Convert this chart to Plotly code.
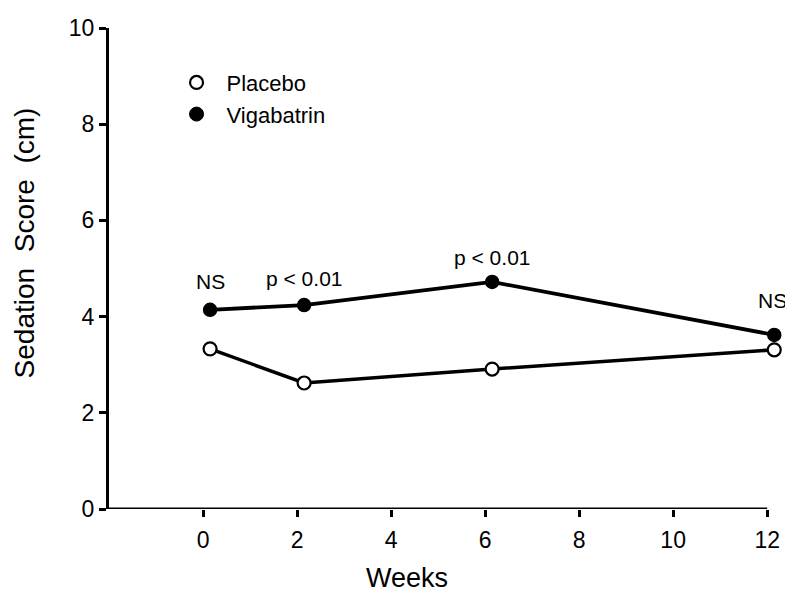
import plotly.graph_objects as go

weeks = [0.15, 2.15, 6.15, 12.15]
placebo = [3.33, 2.62, 2.91, 3.31]
vigabatrin = [4.14, 4.24, 4.72, 3.62]
sig_labels = ["NS", "p < 0.01", "p < 0.01", "NS"]
x_ticks = [0, 2, 4, 6, 8, 10, 12]
y_ticks = [0, 2, 4, 6, 8, 10]

FONT = "Liberation Sans, Arial, Helvetica, sans-serif"

fig = go.Figure()

fig.add_trace(go.Scatter(
    x=weeks, y=vigabatrin, mode="lines+markers", name="Vigabatrin",
    line=dict(color="black", width=3.8),
    marker=dict(size=13, color="black", line=dict(color="black", width=1.5)),
    showlegend=False, cliponaxis=False,
))
fig.add_trace(go.Scatter(
    x=weeks, y=placebo, mode="lines+markers", name="Placebo",
    line=dict(color="black", width=3.5),
    marker=dict(size=13, color="white", line=dict(color="black", width=2.2)),
    showlegend=False, cliponaxis=False,
))
# legend-only entries (markers only, as in the reference)
fig.add_trace(go.Scatter(
    x=[None], y=[None], mode="markers", name="Placebo",
    marker=dict(size=13, color="white", line=dict(color="black", width=2.2)),
))
fig.add_trace(go.Scatter(
    x=[None], y=[None], mode="markers", name="Vigabatrin",
    marker=dict(size=14, color="black", line=dict(color="black", width=1)),
))

yshifts = [28, 27, 24, 34]
xshifts = [0, 0, 0, -2]
for xv, yv, txt, ys, xs in zip(weeks, vigabatrin, sig_labels, yshifts, xshifts):
    fig.add_annotation(
        x=xv, y=yv, text=txt, showarrow=False, xanchor="center", yanchor="middle",
        yshift=ys, xshift=xs, font=dict(family=FONT, size=21, color="black"),
    )

# axis titles (placed as in the reference, slightly off-centre)
fig.add_annotation(
    text="Sedation&nbsp; Score&nbsp; (cm)", textangle=-90, showarrow=False,
    xref="paper", yref="paper", x=-0.125, y=0.553, xanchor="center", yanchor="middle",
    font=dict(family=FONT, size=28, color="black"),
)
fig.add_annotation(
    text="Weeks", showarrow=False,
    xref="paper", yref="paper", x=0.44, y=-0.143, xanchor="center", yanchor="middle",
    font=dict(family=FONT, size=27, color="black"),
)

# x axis baseline from -2 to 12 (the axis range is padded so the week-12 markers show)
fig.add_shape(type="line", xref="x", yref="y", x0=-2, x1=12, y0=0, y1=0,
              line=dict(color="black", width=3))

fig.update_layout(
    width=785, height=586,
    margin=dict(l=101, r=7, t=20, b=85),
    paper_bgcolor="white", plot_bgcolor="white",
    font=dict(family=FONT, color="black"),
    showlegend=True,
    legend=dict(
        x=0.085, y=0.93, xanchor="left", yanchor="top",
        font=dict(family=FONT, size=22, color="black"),
        bgcolor="rgba(0,0,0,0)", itemwidth=50,
    ),
)

fig.update_xaxes(
    range=[-2, 12.4], tickvals=x_ticks, ticktext=[str(t) for t in x_ticks],
    showline=False,
    ticks="outside", ticklen=7, tickwidth=2.5, tickcolor="black",
    showgrid=False, zeroline=False, ticklabelstandoff=3,
    tickfont=dict(family=FONT, size=23, color="black"),
)
fig.update_yaxes(
    range=[0, 10], tickvals=y_ticks, ticktext=[str(t) for t in y_ticks],
    showline=True, linecolor="black", linewidth=3,
    ticks="outside", ticklen=7, tickwidth=2.5, tickcolor="black",
    showgrid=False, zeroline=False,
    tickfont=dict(family=FONT, size=23, color="black"),
)

fig.write_html("out.html")
